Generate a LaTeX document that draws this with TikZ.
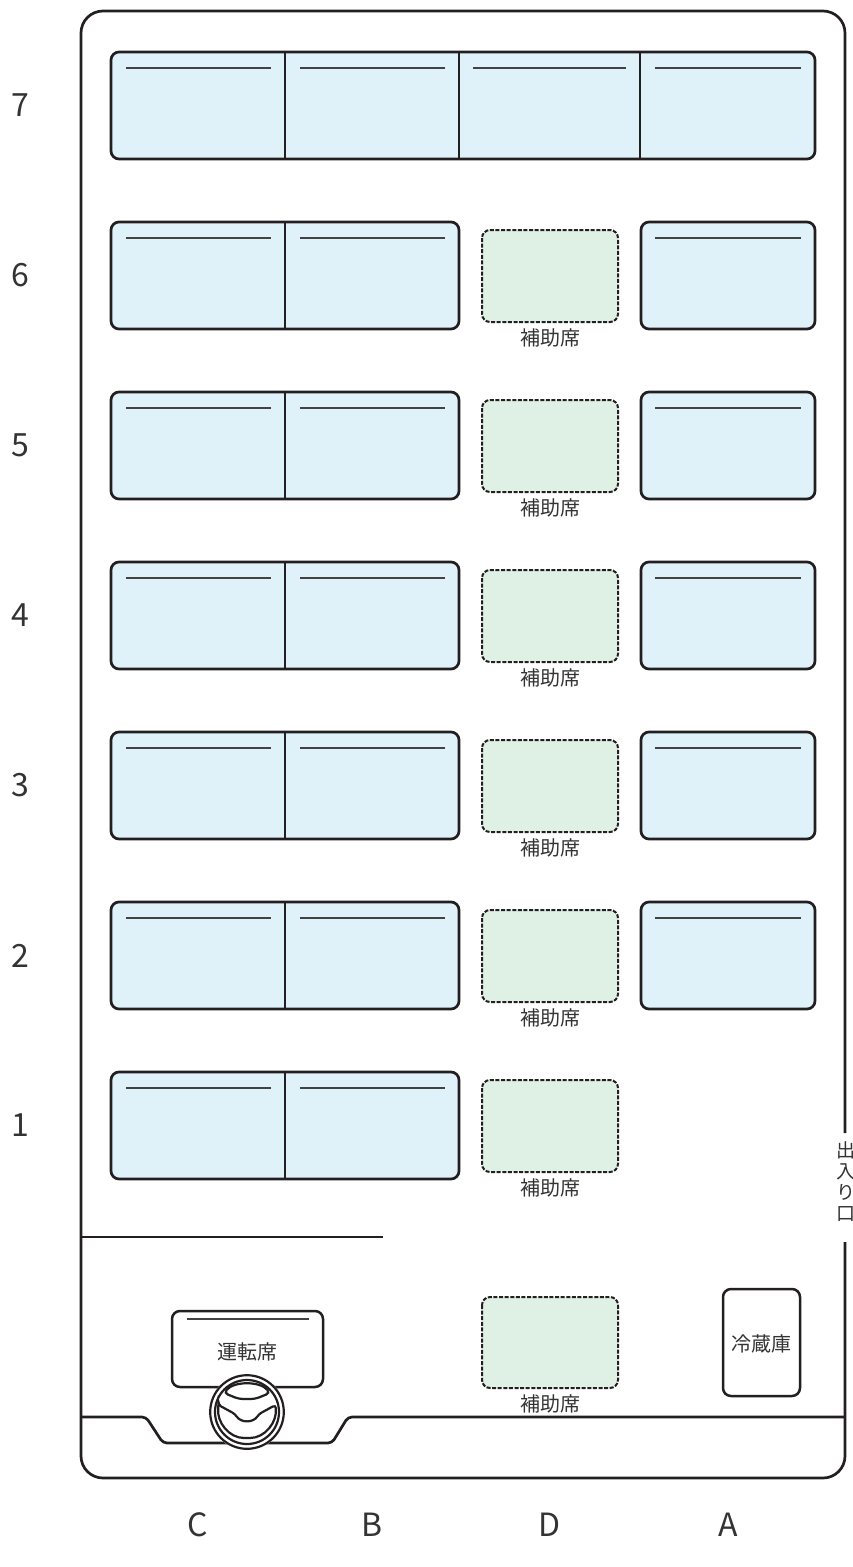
\documentclass[tikz,border=0pt]{standalone}
\usepackage{fontspec}
\setmainfont{Noto Sans CJK JP}
\definecolor{ink}{HTML}{231F20}
\definecolor{txt}{HTML}{333333}
\definecolor{seatblue}{HTML}{DFF2FA}
\definecolor{auxgreen}{HTML}{DFF0E5}
\begin{document}
\begin{tikzpicture}[x=1pt,y=-1pt,
  frame/.style={draw=ink,line width=2.7pt,rounded corners=22pt},
  seatbox/.style={draw=ink,line width=2.7pt,fill=seatblue,rounded corners=8pt},
  divider/.style={draw=ink,line width=2.7pt},
  backline/.style={draw=ink!85,line width=2.1pt},
  auxbox/.style={draw=ink,line width=2pt,dash pattern=on 4pt off 1.6pt,fill=auxgreen,rounded corners=8pt},
  plainbox/.style={draw=ink,line width=2.5pt,fill=white,rounded corners=8pt},
  wall/.style={draw=ink,line width=2.7pt},
  cjklab/.style={text=txt,font=\fontsize{20}{22}\selectfont,inner sep=0pt},
  biglab/.style={text=txt,font=\fontsize{32}{34}\selectfont,inner sep=0pt},
  wheelline/.style={draw=ink,line width=2.2pt}
]
\useasboundingbox (0,0) rectangle (853,1567);

% outer body with door gap
\draw[frame] (845,1242) -- (845,1478) -- (81,1478) -- (81,11) -- (845,11) -- (845,1133);
\node[cjklab,align=center,font=\fontsize{19}{21}\selectfont] (door) at (846,1182) {出\\入\\り\\口};

% row 7 bench
\draw[seatbox] (111,52) rectangle (815,159);
\foreach \x in {285,459,640} \draw[divider] (\x,52) -- (\x,159);
\foreach \a/\b in {126/271,300/445,473/626,655/801} \draw[backline] (\a,68) -- (\b,68);
\node[biglab] (row7) at (20,105.5) {7};

% rows 6..1
\foreach \r/\t in {6/222,5/392,4/562,3/732,2/902,1/1072}{
  \draw[seatbox] (111,\t) rectangle (459,\t+107);
  \draw[divider] (285,\t) -- (285,\t+107);
  \draw[backline] (126,\t+16) -- (271,\t+16);
  \draw[backline] (300,\t+16) -- (445,\t+16);
  \draw[auxbox] (482,\t+8) rectangle (618,\t+100);
  \node[cjklab] (aux\r) at (550,\t+116) {補助席};
  \node[biglab] (row\r) at (20,\t+53.5) {\r};
}
\foreach \t in {222,392,562,732,902}{
  \draw[seatbox] (641,\t) rectangle (815,\t+107);
  \draw[backline] (655,\t+16) -- (801,\t+16);
}

% partition behind driver
\draw[wall] (81,1237) -- (383,1237);

% front wall with dashboard recess
\draw[wall,rounded corners=4pt] (81,1417) -- (146,1417) -- (163,1443) -- (332,1443) -- (348,1417) -- (845,1417);

% front auxiliary seat
\draw[auxbox] (482,1297) rectangle (618,1388);
\node[cjklab] (auxF) at (550,1404) {補助席};

% fridge
\draw[plainbox] (723,1289) rectangle (800,1396);
\node[cjklab] (fridge) at (761.5,1344) {冷蔵庫};

% driver seat
\draw[plainbox] (172,1311) rectangle (323,1387);
\draw[backline] (187,1319) -- (309,1319);
\node[cjklab] (driver) at (247,1352) {運転席};

% steering wheel
\begin{scope}[shift={(247,1412)}]
  \fill[white] (0,0) circle (38);
  \draw[wheelline] (0,0) circle (36.8);
  \draw[wheelline] (0,0) circle (32);
  \draw[wheelline,rounded corners=4pt] (-23,-19) .. controls (-13,-31) and (13,-31) .. (23,-19) -- (8,-13) -- (-8,-13) -- cycle;
  \draw[wheelline,rounded corners=3pt] (-28.5,-7) -- (-12,2) .. controls (-6,11) and (6,11) .. (12,2) -- (28.5,-7) .. controls (30.5,10) and (18,26) .. (0,26) .. controls (-18,26) and (-30.5,10) .. (-28.5,-7) -- cycle;
\end{scope}

% column labels
\node[biglab] (colC) at (198,1525) {C};
\node[biglab] (colB) at (372,1525) {B};
\node[biglab] (colD) at (550,1525) {D};
\node[biglab] (colA) at (728,1525) {A};
\end{tikzpicture}
\end{document}
